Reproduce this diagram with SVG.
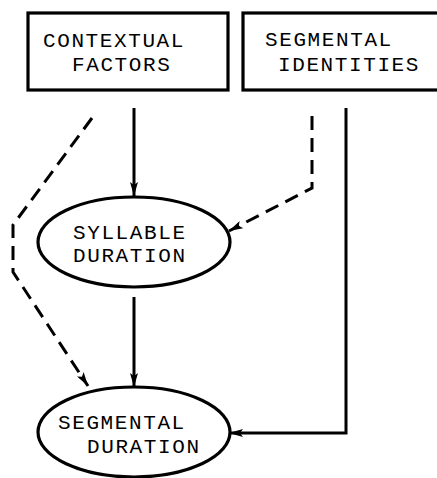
<svg xmlns="http://www.w3.org/2000/svg" width="437" height="478" viewBox="0 0 437 478">
<style>
.box{fill:#fff;stroke:#000;stroke-width:3.2}
.t{font-family:"Liberation Mono","Courier New",monospace;font-size:21px;letter-spacing:1.6px;fill:#000}
.s{fill:none;stroke:#000;stroke-width:3}
.d{fill:none;stroke:#000;stroke-width:3;stroke-dasharray:14 8}
</style>
<defs>
<marker id="ah" viewBox="0 0 14 8" refX="14" refY="4" markerWidth="14" markerHeight="8" markerUnits="userSpaceOnUse" orient="auto">
<path d="M0,0 L14,4 L0,8 L3,4 Z" fill="#000"/>
</marker>
</defs>
<rect width="437" height="478" fill="#fff"/>
<g id="contextual">
<rect class="box" x="28" y="13" width="200" height="77"/>
<text class="t" x="43" y="47">CONTEXTUAL</text>
<text class="t" x="72" y="71">FACTORS</text>
</g>
<g id="segmental-identities">
<rect class="box" x="243" y="13" width="196" height="77"/>
<text class="t" x="265" y="46">SEGMENTAL</text>
<text class="t" x="278" y="71">IDENTITIES</text>
</g>
<g id="syllable-duration">
<ellipse class="box" cx="134" cy="242" rx="96" ry="45"/>
<text class="t" x="73" y="239">SYLLABLE</text>
<text class="t" x="73" y="262">DURATION</text>
</g>
<g id="segmental-duration">
<ellipse class="box" cx="134" cy="432" rx="96" ry="45"/>
<text class="t" x="58" y="429">SEGMENTAL</text>
<text class="t" x="87" y="453">DURATION</text>
</g>
<g id="connectors">
<path class="s" d="M134,108 V196" marker-end="url(#ah)"/>
<path class="s" d="M134,297 V387" marker-end="url(#ah)"/>
<path class="d" d="M312,116 V188 L229,231" marker-end="url(#ah)"/>
<path class="s" d="M346,108 V433 H229" marker-end="url(#ah)"/>
<path class="d" d="M92,118 L13,225 V272 L88,386" marker-end="url(#ah)"/>
</g>
</svg>
